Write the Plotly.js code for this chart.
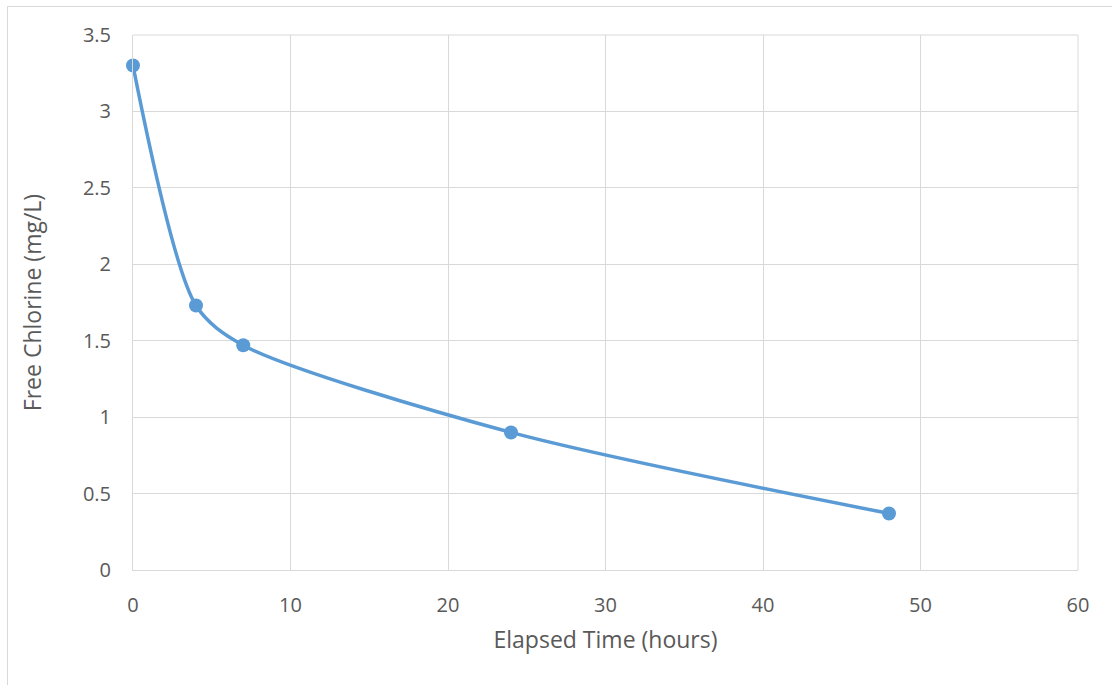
<!DOCTYPE html>
<html>
<head>
<meta charset="utf-8">
<script src="https://cdn.plot.ly/plotly-3.0.1.min.js"></script>
<style>
html,body{margin:0;padding:0;background:#fff;}
#frame{position:absolute;left:7px;top:6px;width:1200px;height:800px;border-left:1px solid #d9d9d9;border-top:1px solid #d9d9d9;}
#chart{position:absolute;left:0;top:0;width:1112px;height:685px;}
</style>
</head>
<body>
<div id="frame"></div>
<div id="chart"></div>
<script>
const elapsedHours = [0, 4, 7, 24, 48];
const freeChlorine = [3.3, 1.73, 1.47, 0.9, 0.37];
const xTicks = [0, 10, 20, 30, 40, 50, 60];
const yTicks = [0, 0.5, 1, 1.5, 2, 2.5, 3, 3.5];

const trace = {
  x: elapsedHours,
  y: freeChlorine,
  type: 'scatter',
  mode: 'lines+markers',
  line: {color: '#5B9BD5', width: 3.5, shape: 'spline', smoothing: 0.8},
  marker: {color: '#5B9BD5', size: 14},
  showlegend: false,
  cliponaxis: false
};

const FONT = 'Open Sans, Noto Sans, sans-serif';
const tickFont = {family: FONT, size: 20, color: '#595959'};
const titleFont = {family: FONT, size: 23, color: '#595959'};
const layout = {
  width: 1112, height: 685,
  margin: {l: 133, r: 34, t: 35, b: 115},
  paper_bgcolor: 'rgba(0,0,0,0)',
  plot_bgcolor: 'rgba(0,0,0,0)',
  xaxis: {
    range: [0, 60], tickvals: xTicks, ticktext: xTicks.map(String),
    showgrid: true, gridcolor: '#d9d9d9', gridwidth: 1,
    zeroline: false, showline: true, linecolor: '#d9d9d9', linewidth: 1, mirror: false,
    ticks: '', ticklabelstandoff: 17, tickfont: tickFont,
    title: {text: 'Elapsed Time (hours)', font: titleFont, standoff: 14}
  },
  yaxis: {
    range: [0, 3.5], tickvals: yTicks, ticktext: yTicks.map(String),
    showgrid: true, gridcolor: '#d9d9d9', gridwidth: 1,
    zeroline: false, showline: true, linecolor: '#d9d9d9', linewidth: 1,
    ticks: '', ticklabelstandoff: 17, tickfont: tickFont,
    title: {text: 'Free Chlorine (mg/L)', font: titleFont, standoff: 34}
  },
  shapes: [{type: 'line', xref: 'paper', yref: 'paper', x0: 1, x1: 1, y0: 0, y1: 1, line: {color: '#d9d9d9', width: 1}},
           {type: 'line', xref: 'paper', yref: 'paper', x0: 0, x1: 1, y0: 1, y1: 1, line: {color: '#d9d9d9', width: 1}}]
};

Plotly.newPlot('chart', [trace], layout, {displayModeBar: false, staticPlot: true});
</script>
</body>
</html>
